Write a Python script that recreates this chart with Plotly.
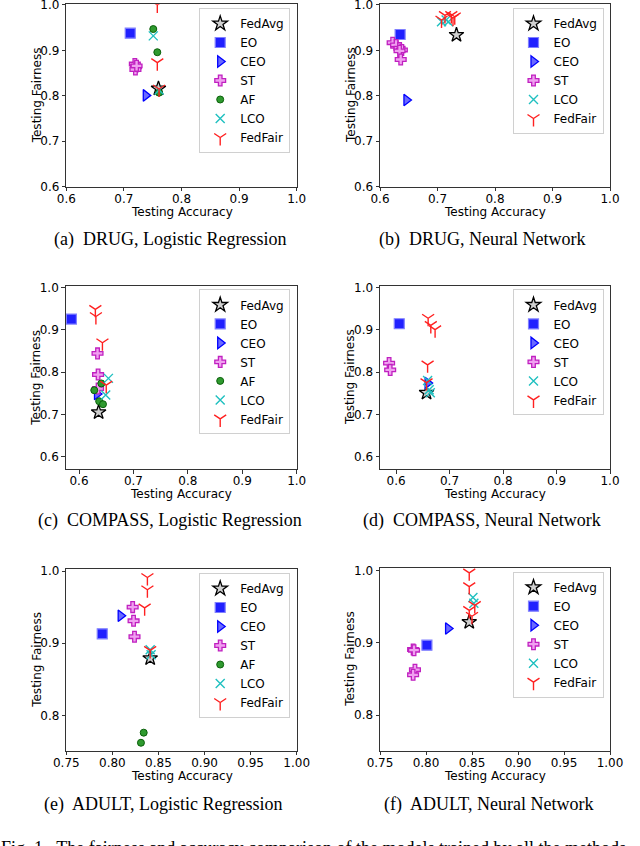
import plotly.graph_objects as go

W, H = 640, 846

# (accuracy, fairness) pairs
drug_lr_fedavg = [(0.760, 0.816)]
drug_lr_eo = [(0.711, 0.938)]
drug_lr_ceo = [(0.738, 0.801)]
drug_lr_st = [(0.719, 0.870), (0.721, 0.864), (0.720, 0.858), (0.722, 0.866)]
drug_lr_af = [(0.751, 0.947), (0.758, 0.896), (0.761, 0.807)]
drug_lr_lco = [(0.751, 0.932), (0.761, 0.813)]
drug_lr_fedfair = [(0.758, 1.000), (0.758, 0.873), (0.761, 0.815)]

drug_nn_fedavg = [(0.733, 0.934)]
drug_nn_eo = [(0.635, 0.935)]
drug_nn_ceo = [(0.646, 0.791)]
drug_nn_st = [(0.622, 0.917), (0.628, 0.912), (0.634, 0.905), (0.638, 0.901), (0.634, 0.899), (0.636, 0.880)]
drug_nn_lco = [(0.707, 0.963), (0.715, 0.967), (0.719, 0.963)]
drug_nn_fedfair = [(0.707, 0.967), (0.713, 0.977), (0.724, 0.977), (0.730, 0.974), (0.727, 0.971)]

compas_lr_fedavg = [(0.636, 0.705)]
compas_lr_eo = [(0.586, 0.925)]
compas_lr_ceo = [(0.633, 0.748)]
compas_lr_st = [(0.634, 0.844), (0.635, 0.794), (0.635, 0.761)]
compas_lr_af = [(0.628, 0.757), (0.641, 0.773), (0.637, 0.731), (0.644, 0.724)]
compas_lr_lco = [(0.654, 0.785), (0.649, 0.746)]
compas_lr_fedfair = [(0.630, 0.948), (0.631, 0.931), (0.643, 0.869), (0.650, 0.769)]

compas_nn_fedavg = [(0.657, 0.751)]
compas_nn_eo = [(0.606, 0.914)]
compas_nn_ceo = [(0.659, 0.774)]
compas_nn_st = [(0.587, 0.821), (0.589, 0.805)]
compas_nn_lco = [(0.659, 0.780), (0.662, 0.758), (0.664, 0.751)]
compas_nn_fedfair = [(0.660, 0.927), (0.665, 0.910), (0.673, 0.900), (0.659, 0.817), (0.657, 0.775)]

adult_lr_fedavg = [(0.841, 0.879)]
adult_lr_eo = [(0.789, 0.913)]
adult_lr_ceo = [(0.809, 0.938)]
adult_lr_st = [(0.822, 0.950), (0.823, 0.931), (0.824, 0.909)]
adult_lr_af = [(0.834, 0.776), (0.831, 0.762)]
adult_lr_lco = [(0.841, 0.891), (0.842, 0.884)]
adult_lr_fedfair = [(0.838, 0.991), (0.838, 0.974), (0.835, 0.949), (0.841, 0.890)]

adult_nn_fedavg = [(0.847, 0.929)]
adult_nn_eo = [(0.801, 0.897)]
adult_nn_ceo = [(0.824, 0.920)]
adult_nn_st = [(0.786, 0.891), (0.787, 0.890), (0.788, 0.863), (0.786, 0.856)]
adult_nn_lco = [(0.851, 0.963), (0.852, 0.955)]
adult_nn_fedfair = [(0.847, 0.997), (0.847, 0.978), (0.847, 0.945), (0.850, 0.937), (0.853, 0.952)]

ticks_a = [0.6, 0.7, 0.8, 0.9, 1.0]
ticks_x_adult = [0.75, 0.80, 0.85, 0.90, 0.95, 1.00]
ticks_y_adult = [0.8, 0.9, 1.0]

captions = ["(a)  DRUG, Logistic Regression", "(b)  DRUG, Neural Network",
            "(c)  COMPASS, Logistic Regression", "(d)  COMPASS, Neural Network",
            "(e)  ADULT, Logistic Regression", "(f)  ADULT, Neural Network"]
fig_caption = "Fig. 1.  The fairness and accuracy comparison of the models trained by all the methods"

styles = {
    "FedAvg": dict(symbol="star", size=11, color="rgba(120,120,120,0.35)", line=dict(color="black", width=1.3)),
    "EO": dict(symbol="square", size=10, color="#2020ff", line=dict(color="#8080ff", width=1.2)),
    "CEO": dict(symbol="triangle-right", size=10, color="#6a6aff", line=dict(color="#0000ff", width=1.3)),
    "ST": dict(symbol="cross", size=9, color="#f0a0f0", line=dict(color="#c020c0", width=1.3)),
    "AF": dict(symbol="circle", size=7, color="#2f9a2f", line=dict(color="#0a600a", width=1)),
    "LCO": dict(symbol="x-thin", size=9, color="#20c0c0", line=dict(color="#20c0c0", width=1.4)),
    "FedFair": dict(symbol="y-down", size=10, color="#ff2020", line=dict(color="#ff2020", width=1.4)),
}

panels = [
    dict(data=[("FedAvg", drug_lr_fedavg), ("EO", drug_lr_eo), ("CEO", drug_lr_ceo), ("ST", drug_lr_st),
               ("AF", drug_lr_af), ("LCO", drug_lr_lco), ("FedFair", drug_lr_fedfair)],
         box=(66.3, 296.7, 4.3, 186.7), xr=[0.6, 1.0], yr=[0.6, 1.0015], xt=ticks_a, yt=ticks_a, fmt=".1f"),
    dict(data=[("FedAvg", drug_nn_fedavg), ("EO", drug_nn_eo), ("CEO", drug_nn_ceo), ("ST", drug_nn_st),
               ("LCO", drug_nn_lco), ("FedFair", drug_nn_fedfair)],
         box=(380, 610, 4.3, 186.7), xr=[0.6, 1.0], yr=[0.6, 1.0015], xt=ticks_a, yt=ticks_a, fmt=".1f"),
    dict(data=[("FedAvg", compas_lr_fedavg), ("EO", compas_lr_eo), ("CEO", compas_lr_ceo), ("ST", compas_lr_st),
               ("AF", compas_lr_af), ("LCO", compas_lr_lco), ("FedFair", compas_lr_fedfair)],
         box=(65.7, 296.7, 285.7, 469.3), xr=[0.5755, 1.0], yr=[0.5703, 1.0038], xt=ticks_a, yt=ticks_a, fmt=".1f"),
    dict(data=[("FedAvg", compas_nn_fedavg), ("EO", compas_nn_eo), ("CEO", compas_nn_ceo), ("ST", compas_nn_st),
               ("LCO", compas_nn_lco), ("FedFair", compas_nn_fedfair)],
         box=(380, 610, 285.7, 469.3), xr=[0.570, 1.0], yr=[0.5703, 1.0038], xt=ticks_a, yt=ticks_a, fmt=".1f"),
    dict(data=[("FedAvg", adult_lr_fedavg), ("EO", adult_lr_eo), ("CEO", adult_lr_ceo), ("ST", adult_lr_st),
               ("AF", adult_lr_af), ("LCO", adult_lr_lco), ("FedFair", adult_lr_fedfair)],
         box=(66.3, 296.7, 569.3, 750.7), xr=[0.75, 1.0], yr=[0.751, 1.0024], xt=ticks_x_adult, yt=ticks_y_adult, fmt=".2f"),
    dict(data=[("FedAvg", adult_nn_fedavg), ("EO", adult_nn_eo), ("CEO", adult_nn_ceo), ("ST", adult_nn_st),
               ("LCO", adult_nn_lco), ("FedFair", adult_nn_fedfair)],
         box=(380, 610, 568, 750.7), xr=[0.75, 1.0], yr=[0.751, 1.0037], xt=ticks_x_adult, yt=ticks_y_adult, fmt=".2f"),
]


def px(x):
    return x / W


def py(y):
    return 1 - y / H


fig = go.Figure()
layout = dict(width=W, height=H, margin=dict(l=0, r=0, t=0, b=0, autoexpand=False),
              paper_bgcolor="white", plot_bgcolor="white",
              font=dict(family="DejaVu Sans", size=12, color="black"))
annotations = []
ax_font = dict(family="DejaVu Sans", size=12, color="black")
cap_font = dict(family="Liberation Serif", size=18, color="black")

for i, p in enumerate(panels):
    n = i + 1
    sfx = "" if n == 1 else str(n)
    leg = "legend" + sfx
    left, right, top, bottom = p["box"]
    for name, pts in p["data"]:
        st = styles[name]
        fig.add_trace(go.Scatter(
            x=[a for a, f in pts], y=[f for a, f in pts], mode="markers", name=name,
            marker=dict(symbol=st["symbol"], size=st["size"], color=st["color"], line=st["line"]),
            xaxis="x" + sfx, yaxis="y" + sfx, legend=leg))
    axis_common = dict(showline=True, mirror=True, linecolor="#333", linewidth=1, showgrid=False,
                       zeroline=False, ticks="outside", ticklen=3.5, tickcolor="#333", automargin=False,
                       ticklabeloverflow="allow",
                       tickfont=dict(family="DejaVu Sans", size=12, color="black"))
    layout["xaxis" + sfx] = dict(axis_common, domain=[px(left), px(right)], range=p["xr"],
                                 tickvals=p["xt"], ticktext=[format(v, p["fmt"]) for v in p["xt"]],
                                 anchor="y" + sfx, ticklabelstandoff=-3)
    layout["yaxis" + sfx] = dict(axis_common, domain=[py(bottom), py(top)], range=p["yr"],
                                 tickvals=p["yt"], ticktext=[format(v, ".1f") for v in p["yt"]],
                                 anchor="x" + sfx)
    layout[leg] = dict(x=px(right - 6.5), y=py(top + 3.7), xanchor="right", yanchor="top",
                       bgcolor="white", bordercolor="#d0d0d0", borderwidth=1,
                       font=dict(family="DejaVu Sans", size=12, color="black"),
                       tracegroupgap=0, itemwidth=30)
    cx = (left + right) / 2
    annotations.append(dict(text="Testing Accuracy", x=px(cx), y=py(bottom + 25), xref="paper", yref="paper",
                            showarrow=False, font=ax_font, xanchor="center", yanchor="middle"))
    annotations.append(dict(text="Testing Fairness", x=px(left - 29.5), y=py((top + bottom) / 2),
                            xref="paper", yref="paper", showarrow=False, font=ax_font, textangle=-90,
                            xanchor="center", yanchor="middle"))
    cap_y = [240, 240, 520, 520, 804, 804][i]
    cap_x = [170, 482, 170, 482, 163, 488][i]
    annotations.append(dict(text=captions[i], x=px(cap_x), y=py(cap_y), xref="paper", yref="paper",
                            showarrow=False, font=cap_font, xanchor="center", yanchor="middle"))

annotations.append(dict(text=fig_caption, x=0, y=py(837), xref="paper", yref="paper", showarrow=False,
                        font=cap_font, xanchor="left", yanchor="top", borderpad=0))
layout["annotations"] = annotations
fig.update_layout(**layout)
# drop the default 8px body margin so the figure sits at the window's top-left corner
fig.write_html("out.html", config={"displayModeBar": False},
               post_script="document.body.style.margin='0';")
